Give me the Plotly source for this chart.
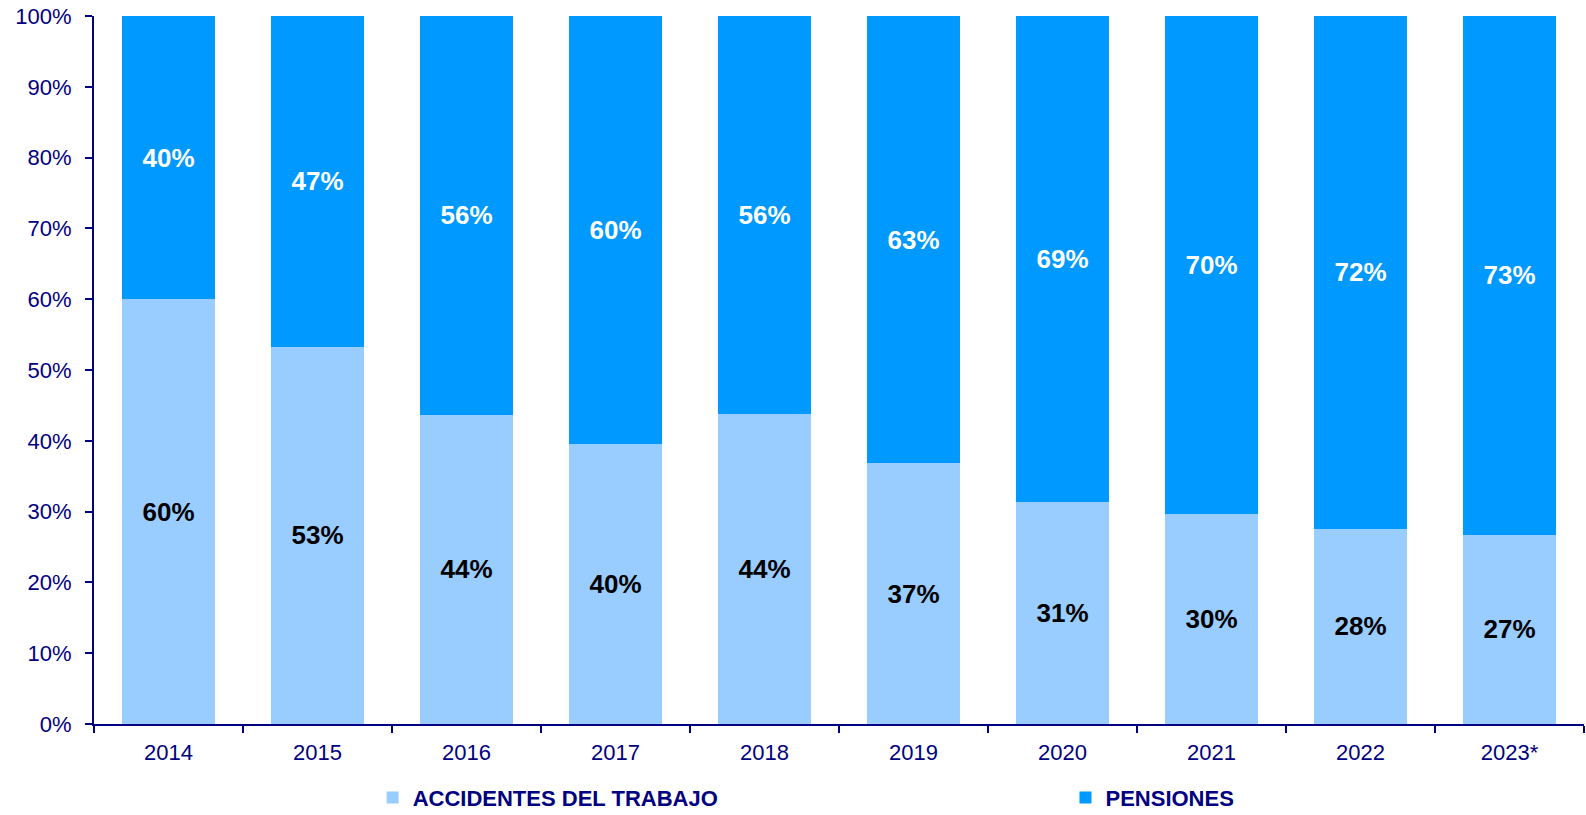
import plotly.graph_objects as go

years = ["2014", "2015", "2016", "2017", "2018", "2019", "2020", "2021", "2022", "2023*"]
accidentes = [60.0, 53.3, 43.7, 39.6, 43.8, 36.8, 31.4, 29.7, 27.6, 26.7]
pensiones = [40.0, 46.7, 56.3, 60.4, 56.2, 63.2, 68.6, 70.3, 72.4, 73.3]

NAVY = "#000080"
FONT = "Arial, Liberation Sans, sans-serif"

fig = go.Figure()
fig.add_bar(
    x=years, y=accidentes, name="ACCIDENTES DEL TRABAJO", legend="legend",
    marker=dict(color="#99CCFF", line=dict(width=0)),
    texttemplate="%{y:.0f}%", textposition="inside", insidetextanchor="middle",
    textangle=0, constraintext="none",
    textfont=dict(family=FONT, size=26, color="black", weight="bold"),
)
fig.add_bar(
    x=years, y=pensiones, name="PENSIONES", legend="legend2",
    marker=dict(color="#0099FF", line=dict(width=0)),
    texttemplate="%{y:.0f}%", textposition="inside", insidetextanchor="middle",
    textangle=0, constraintext="none",
    textfont=dict(family=FONT, size=26, color="white", weight="bold"),
)

legend_style = dict(
    orientation="h", xanchor="left", yanchor="middle", y=-0.104,
    font=dict(family=FONT, size=22, color=NAVY, weight="bold"),
    bgcolor="rgba(0,0,0,0)", borderwidth=0,
)

fig.update_layout(
    barmode="stack",
    bargap=0.376,
    width=1586, height=815,
    margin=dict(l=94, r=2, t=16, b=91, autoexpand=False),
    plot_bgcolor="white", paper_bgcolor="white",
    font=dict(family=FONT, color=NAVY),
    showlegend=True,
    legend=dict(legend_style, x=0.187),
    legend2=dict(legend_style, x=0.652),
    xaxis=dict(
        type="category", showline=True, linecolor=NAVY, linewidth=2,
        ticks="outside", tickson="boundaries", ticklen=7, tickwidth=2, tickcolor=NAVY,
        tickfont=dict(family=FONT, size=22, color=NAVY), showgrid=False,
        ticklabelstandoff=8,
    ),
    yaxis=dict(
        range=[0, 100], dtick=10, ticksuffix="%", showline=True, linecolor=NAVY,
        linewidth=2, ticks="outside", ticklen=7, tickwidth=2, tickcolor=NAVY,
        tickfont=dict(family=FONT, size=22, color=NAVY), showgrid=False,
        zeroline=False, ticklabelstandoff=9,
    ),
)

fig.write_html("out.html")
